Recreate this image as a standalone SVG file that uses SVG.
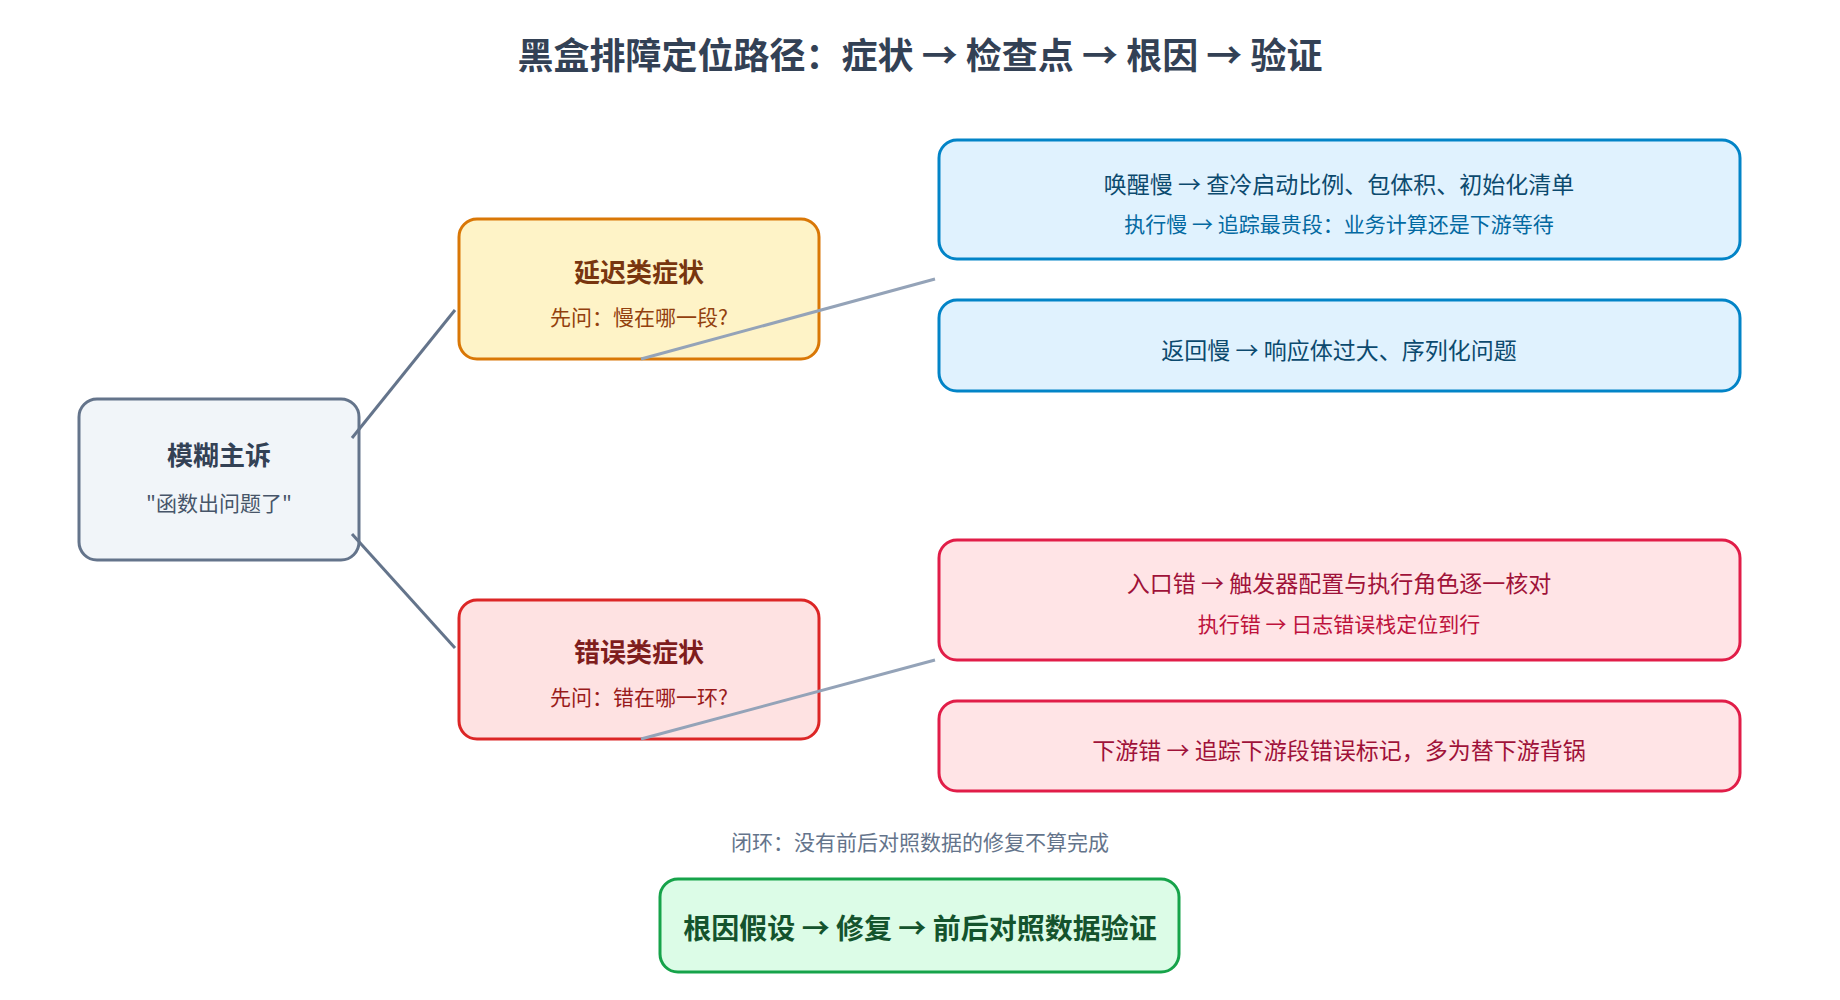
<svg xmlns="http://www.w3.org/2000/svg" width="1840" height="1000" viewBox="0 0 1840 1000">
<style>
text{font-family:"Noto Sans CJK SC","Noto Sans",sans-serif;text-anchor:middle;dominant-baseline:central}
.t{font-weight:bold;font-size:26px}
.s{font-size:21px}
.l{font-size:23px}
.l2{font-size:21px}
rect{stroke-width:3}
</style>
<rect width="1840" height="1000" fill="#fff"/>
<text x="920" y="53" style="font-size:36px;font-weight:bold" fill="#334155">黑盒排障定位路径：症状 → 检查点 → 根因 → 验证</text>
<g id="complaint"><rect x="79" y="399" width="280" height="161" rx="18" fill="#f1f5f9" stroke="#64748b"/>
<text class="t" x="219" y="453" fill="#334155">模糊主诉</text><text class="s" x="219" y="502" fill="#475569">"函数出问题了"</text></g>
<g id="latency"><rect x="459" y="219" width="360" height="140" rx="18" fill="#fef3c7" stroke="#d97706"/>
<text class="t" x="639" y="270" fill="#78350f">延迟类症状</text><text class="s" x="639" y="316" fill="#92400e">先问：慢在哪一段?</text></g>
<g id="error"><rect x="459" y="600" width="360" height="139" rx="18" fill="#fee2e2" stroke="#dc2626"/>
<text class="t" x="639" y="650" fill="#7f1d1d">错误类症状</text><text class="s" x="639" y="696" fill="#991b1b">先问：错在哪一环?</text></g>
<g id="lat1"><rect x="939" y="140" width="801" height="119" rx="18" fill="#e0f2fe" stroke="#0284c7"/>
<text class="l" x="1339" y="183" fill="#0c4a6e">唤醒慢 → 查冷启动比例、包体积、初始化清单</text>
<text class="l2" x="1339" y="223" fill="#0369a1">执行慢 → 追踪最贵段：业务计算还是下游等待</text></g>
<g id="lat2"><rect x="939" y="300" width="801" height="91" rx="18" fill="#e0f2fe" stroke="#0284c7"/>
<text class="l" x="1339" y="349" fill="#0c4a6e">返回慢 → 响应体过大、序列化问题</text></g>
<g id="err1"><rect x="939" y="540" width="801" height="120" rx="18" fill="#ffe4e6" stroke="#e11d48"/>
<text class="l" x="1339" y="582" fill="#9f1239">入口错 → 触发器配置与执行角色逐一核对</text>
<text class="l2" x="1339" y="623" fill="#be123c">执行错 → 日志错误栈定位到行</text></g>
<g id="err2"><rect x="939" y="701" width="801" height="90" rx="18" fill="#ffe4e6" stroke="#e11d48"/>
<text class="l" x="1339" y="749" fill="#9f1239">下游错 → 追踪下游段错误标记，多为替下游背锅</text></g>
<text x="920" y="841" style="font-size:21px" fill="#64748b">闭环：没有前后对照数据的修复不算完成</text>
<g id="verify"><rect x="660" y="879" width="519" height="93" rx="18" fill="#dcfce7" stroke="#16a34a"/>
<text x="920" y="927" style="font-size:28px;font-weight:bold" fill="#14532d">根因假设 → 修复 → 前后对照数据验证</text></g>
<g id="connectors" stroke-width="3" fill="none">
<line x1="352" y1="438" x2="455" y2="310" stroke="#64748b"/>
<line x1="352" y1="534" x2="455" y2="648" stroke="#64748b"/>
<line x1="641" y1="359" x2="935" y2="279" stroke="#94a3b8"/>
<line x1="641" y1="739" x2="935" y2="660" stroke="#94a3b8"/>
</g>
</svg>
